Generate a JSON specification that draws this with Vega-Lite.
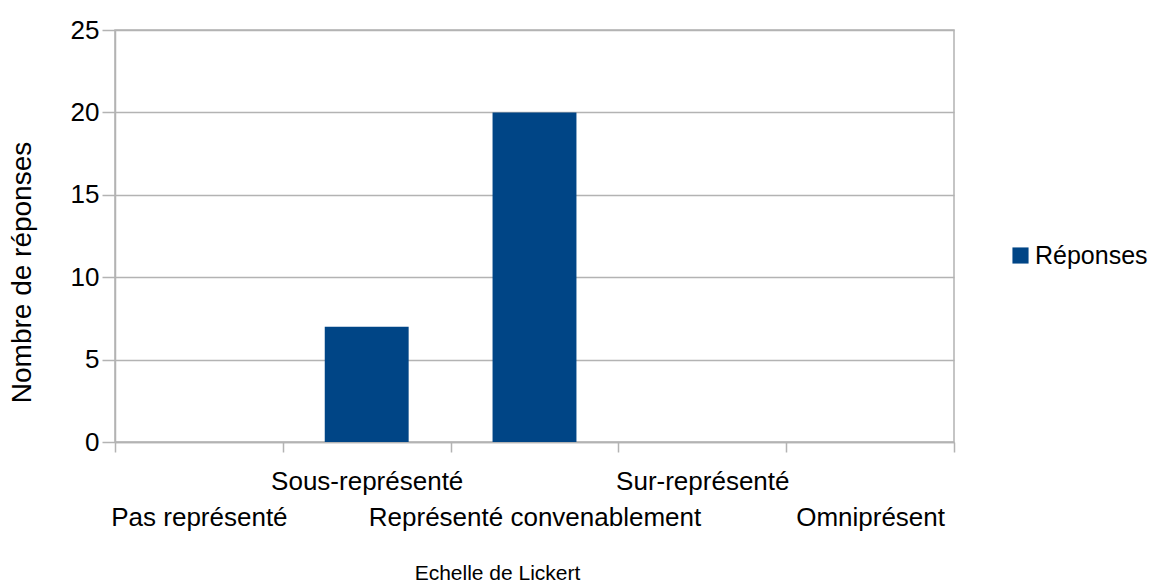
{
  "$schema": "https://vega.github.io/schema/vega-lite/v6.json",
  "autosize": {"type": "none"},
  "padding": {"left": 115, "top": 30, "right": 198, "bottom": 143},
  "width": 839,
  "height": 412,
  "config": {
    "font": "Liberation Sans",
    "view": {"stroke": "#b3b3b3", "strokeWidth": 1.5},
    "axis": {"labelColor": "#000000", "titleColor": "#000000", "titleFontWeight": "normal"}
  },
  "data": {
    "values": [
      {"categorie": "Pas représenté", "reponses": 0, "serie": "Réponses"},
      {"categorie": "Sous-représenté", "reponses": 7, "serie": "Réponses"},
      {"categorie": "Représenté convenablement", "reponses": 20, "serie": "Réponses"},
      {"categorie": "Sur-représenté", "reponses": 0, "serie": "Réponses"},
      {"categorie": "Omniprésent", "reponses": 0, "serie": "Réponses"}
    ]
  },
  "mark": {"type": "bar", "width": {"band": 0.5}},
  "encoding": {
    "x": {
      "field": "categorie",
      "type": "nominal",
      "sort": null,
      "scale": {"paddingInner": 0, "paddingOuter": 0},
      "axis": {
        "title": "Echelle de Lickert",
        "titleFontSize": 21,
        "titleX": 382,
        "titleY": 131,
        "titleAnchor": null,
        "titleAlign": "center",
        "titleBaseline": "middle",
        "labelAngle": 0,
        "labelFontSize": 26,
        "labelBaseline": "middle",
        "labelPadding": {"condition": {"test": "datum.label == 'Sous-représenté' || datum.label == 'Sur-représenté'", "value": 29}, "value": 65},
        "labelOverlap": false,
        "labelBound": false,
        "labelFlush": false,
        "labelLimit": 0,
        "tickBand": "extent",
        "tickSize": 10,
        "tickColor": "#b3b3b3",
        "tickWidth": 1.5,
        "domainColor": "#b3b3b3",
        "domainWidth": 1.5,
        "grid": false
      }
    },
    "y": {
      "field": "reponses",
      "type": "quantitative",
      "scale": {"domain": [0, 25], "nice": false},
      "axis": {
        "title": "Nombre de réponses",
        "titleFontSize": 28,
        "titleAngle": -90,
        "titleX": -93,
        "titleY": 242,
        "titleAlign": "center",
        "titleBaseline": "middle",
        "values": [0, 5, 10, 15, 20, 25],
        "labelFontSize": 26,
        "labelPadding": 3,
        "tickSize": 13,
        "tickColor": "#b3b3b3",
        "tickWidth": 1.5,
        "domainColor": "#b3b3b3",
        "domainWidth": 1.5,
        "gridColor": "#b3b3b3",
        "gridWidth": 1.5
      }
    },
    "color": {
      "field": "serie",
      "type": "nominal",
      "scale": {"range": ["#004586"]},
      "legend": {
        "title": null,
        "orient": "none",
        "legendX": 893,
        "legendY": 213,
        "symbolType": "square",
        "symbolSize": 260,
        "symbolStrokeWidth": 0,
        "labelFontSize": 25,
        "labelColor": "#000000",
        "labelOffset": 2
      }
    }
  }
}
